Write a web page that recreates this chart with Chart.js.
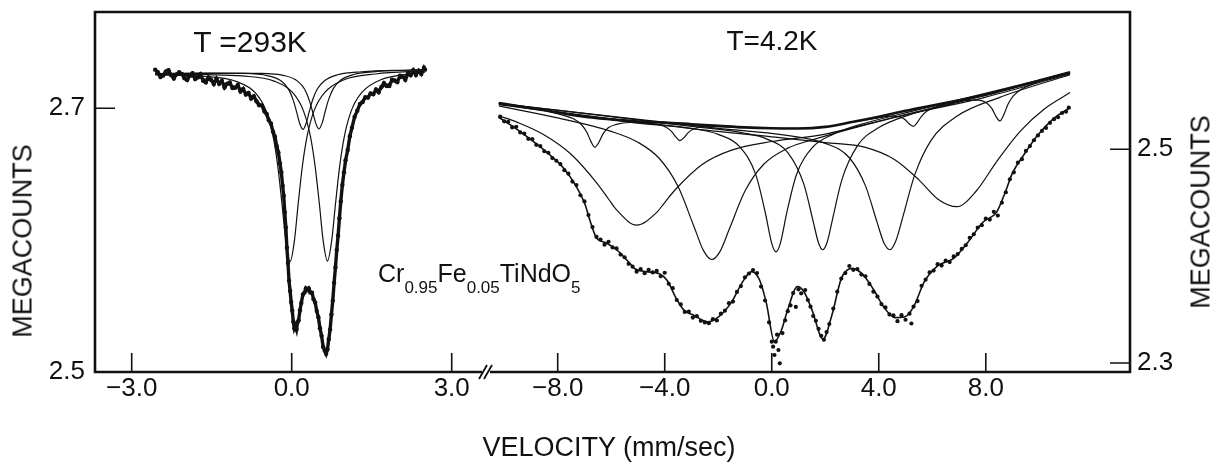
<!DOCTYPE html>
<html>
<head>
<meta charset="utf-8">
<script src="https://cdn.jsdelivr.net/npm/chart.js@4.4.1/dist/chart.umd.min.js"></script>
<style>
  html, body { margin: 0; padding: 0; background: #fff; }
  #fig { position: relative; width: 1214px; height: 470px; font-family: "Liberation Sans", Arial, sans-serif; color: #111; }
  #fig canvas { position: absolute; left: 0; top: 0; }
  .lbl { position: absolute; white-space: nowrap; line-height: 1; }
  .mid { transform: translate(-50%, -50%); }
  .rot { transform: translate(-50%, -50%) rotate(-90deg); }
  .sub { font-size: 17px; vertical-align: -11px; }
</style>
</head>
<body>
<div id="fig">
  <canvas id="c293" width="1214" height="470"></canvas>
  <canvas id="c4" width="1214" height="470"></canvas>
  <div class="lbl mid" style="left:250px; top:42px; font-size:30px">T =293K</div>
  <div class="lbl mid" style="left:772px; top:41px; font-size:28px">T=4.2K</div>
  <div class="lbl" style="left:378px; top:261px; font-size:25px">Cr<span class="sub">0.95</span>Fe<span class="sub">0.05</span>TiNdO<span class="sub">5</span></div>
  <div class="lbl rot" style="left:23px; top:241px; font-size:27px">MEGACOUNTS</div>
  <div class="lbl rot" style="left:1201px; top:212px; font-size:27px">MEGACOUNTS</div>
  <div class="lbl mid" style="left:609px; top:447px; font-size:27px">VELOCITY (mm/sec)</div>
</div>

<script>
// tick values
const t293XTicks = [-3, 0, 3];
const t4XTicks = [-8, -4, 0, 4, 8];
const t293YTicks = [2.5, 2.7];
const t4YTicks = [2.3, 2.5];

// ---- T = 293 K (left panel), velocity mm/s vs megacounts ----
const t293DataV = [
  -2.56, -2.51, -2.46, -2.41, -2.36, -2.31, -2.26, -2.21, -2.16, -2.11,
  -2.06, -2.01, -1.96, -1.91, -1.86, -1.81, -1.76, -1.71, -1.66, -1.61,
  -1.56, -1.51, -1.46, -1.41, -1.36, -1.31, -1.26, -1.21, -1.16, -1.11,
  -1.06, -1.01, -0.96, -0.91, -0.86, -0.81, -0.76, -0.71, -0.66, -0.61,
  -0.56, -0.51, -0.47, -0.43, -0.39, -0.35, -0.315, -0.28, -0.25, -0.22,
  -0.195, -0.17, -0.15, -0.13, -0.11, -0.09, -0.07, -0.05, -0.03, -0.01,
  0.01, 0.03, 0.05, 0.07, 0.09, 0.11, 0.13, 0.155, 0.18, 0.21,
  0.24, 0.265, 0.29, 0.32, 0.35, 0.38, 0.41, 0.44, 0.47, 0.5,
  0.53, 0.56, 0.59, 0.62, 0.645, 0.67, 0.695, 0.72, 0.745, 0.77,
  0.795, 0.82, 0.845, 0.87, 0.895, 0.92, 0.95, 0.98, 1.01, 1.05,
  1.09, 1.13, 1.18, 1.23, 1.28, 1.33, 1.38, 1.43, 1.48, 1.53,
  1.58, 1.63, 1.68, 1.73, 1.78, 1.83, 1.88, 1.93, 1.98, 2.03,
  2.08, 2.13, 2.18, 2.23, 2.28, 2.33, 2.38, 2.43, 2.48, 2.5
];
const t293DataY = [
  2.7293, 2.7273, 2.7237, 2.7249, 2.7279, 2.7288, 2.7251, 2.7226, 2.7257, 2.7273,
  2.7260, 2.7227, 2.7214, 2.7249, 2.7265, 2.7222, 2.7234, 2.7258, 2.7208, 2.7196,
  2.7233, 2.7215, 2.7184, 2.7224, 2.7186, 2.7208, 2.7158, 2.7186, 2.7196, 2.7153,
  2.7156, 2.7176, 2.7127, 2.7147, 2.7104, 2.7116, 2.7074, 2.7092, 2.7053, 2.7023,
  2.7022, 2.6975, 2.6957, 2.6910, 2.6885, 2.6822, 2.6786, 2.6712, 2.6665, 2.6582,
  2.6515, 2.6412, 2.6336, 2.6212, 2.6096, 2.5942, 2.5826, 2.5692, 2.5615, 2.5531,
  2.5466, 2.5381, 2.5330, 2.5348, 2.5322, 2.5377, 2.5392, 2.5468, 2.5524, 2.5588,
  2.5602, 2.5633, 2.5621, 2.5634, 2.5603, 2.5602, 2.5552, 2.5527, 2.5462, 2.5416,
  2.5332, 2.5274, 2.5190, 2.5162, 2.5138, 2.5171, 2.5248, 2.5322, 2.5436, 2.5541,
  2.5676, 2.5792, 2.5926, 2.6034, 2.6166, 2.6293, 2.6418, 2.6514, 2.6606, 2.6683,
  2.6788, 2.6853, 2.6936, 2.6982, 2.7032, 2.7048, 2.7083, 2.7081, 2.7113, 2.7106,
  2.7142, 2.7122, 2.7160, 2.7191, 2.7169, 2.7169, 2.7216, 2.7210, 2.7198, 2.7246,
  2.7240, 2.7216, 2.7263, 2.7250, 2.7288, 2.7253, 2.7285, 2.7260, 2.7307, 2.7293
];

const t293FitV = [-2.56, -2.2, -1.8, -1.5, -1.2, -0.97, -0.78, -0.66, -0.53, -0.43,
  -0.35, -0.28, -0.22, -0.17, -0.13, -0.09, -0.05, 0.0, 0.04, 0.08,
  0.13, 0.18, 0.24, 0.29, 0.36, 0.44, 0.52, 0.6, 0.65, 0.7,
  0.75, 0.8, 0.86, 0.92, 0.98, 1.05, 1.13, 1.22, 1.34, 1.53,
  1.72, 1.97, 2.22, 2.5];
const t293FitY = [2.7265, 2.7255, 2.7235, 2.721, 2.718, 2.715, 2.710, 2.706, 2.700, 2.692,
  2.683, 2.672, 2.659, 2.642, 2.622, 2.595, 2.570, 2.550, 2.537, 2.534,
  2.540, 2.553, 2.561, 2.563, 2.561, 2.552, 2.536, 2.518, 2.516, 2.525,
  2.544, 2.569, 2.600, 2.630, 2.652, 2.669, 2.686, 2.698, 2.706, 2.7115,
  2.7165, 2.7215, 2.7255, 2.729];

// strong doublet, two lines
const t293OuterAV = [-2.56, -1.63, -1.03, -0.68, -0.48, -0.35, -0.26, -0.18, -0.11, -0.03,
  0.05, 0.12, 0.2, 0.29, 0.42, 0.62, 0.97, 1.57, 2.5];
const t293OuterAY = [2.7253, 2.7241, 2.7202, 2.7116, 2.6979, 2.6788, 2.6558, 2.6267, 2.5993, 2.5838,
  2.5993, 2.6269, 2.656, 2.679, 2.6982, 2.712, 2.7214, 2.726, 2.7283];
const t293OuterBV = [-2.56, -1.6, -0.93, -0.33, 0.02, 0.22, 0.35, 0.44, 0.52, 0.59,
  0.67, 0.75, 0.82, 0.9, 0.99, 1.12, 1.32, 1.67, 2.27, 2.5];
const t293OuterBY = [2.7258, 2.7255, 2.7245, 2.7206, 2.7118, 2.698, 2.6788, 2.6558, 2.627, 2.5996,
  2.5841, 2.5996, 2.627, 2.6561, 2.6792, 2.6984, 2.7122, 2.7216, 2.7263, 2.7273];

// weak doublet, two lines
const t293InnerAV = [-2.56, -1.79, -0.89, -0.44, -0.19, -0.06, 0.03, 0.09, 0.15, 0.21,
  0.27, 0.33, 0.39, 0.48, 0.61, 0.86, 1.31, 2.21, 2.5];
const t293InnerAY = [2.7262, 2.7265, 2.7264, 2.7246, 2.7205, 2.7145, 2.706, 2.6975, 2.6884, 2.684,
  2.6885, 2.6976, 2.7061, 2.7146, 2.7207, 2.7254, 2.7277, 2.729, 2.7293];
const t293InnerBV = [-2.56, -1.49, -0.59, -0.14, 0.11, 0.24, 0.33, 0.39, 0.45, 0.51,
  0.57, 0.63, 0.69, 0.78, 0.91, 1.16, 1.61, 2.5];
const t293InnerBY = [2.7263, 2.7267, 2.7265, 2.7248, 2.7206, 2.7146, 2.706, 2.6977, 2.6887, 2.6843,
  2.6887, 2.6979, 2.7064, 2.7149, 2.7211, 2.7256, 2.7279, 2.7291];

// ---- T = 4.2 K (right panel) ----
const t4DataV = [
  -10.15, -10.0, -9.85, -9.7, -9.55, -9.4, -9.25, -9.1, -8.95, -8.8,
  -8.65, -8.5, -8.35, -8.2, -8.05, -7.9, -7.75, -7.6, -7.45, -7.3,
  -7.15, -7.0, -6.85, -6.7, -6.55, -6.4, -6.25, -6.1, -5.95, -5.8,
  -5.65, -5.5, -5.35, -5.2, -5.05, -4.9, -4.75, -4.6, -4.45, -4.3,
  -4.15, -4.0, -3.85, -3.7, -3.55, -3.4, -3.25, -3.1, -2.95, -2.8,
  -2.65, -2.5, -2.35, -2.2, -2.05, -1.9, -1.75, -1.6, -1.45, -1.3,
  -1.15, -1.0, -0.85, -0.7, -0.55, -0.4, -0.25, -0.1, 0.0, 0.05,
  0.1, 0.15, 0.2, 0.25, 0.3, 0.4, 0.5, 0.6, 0.7, 0.8,
  0.9, 1.0, 1.1, 1.25, 1.35, 1.45, 1.55, 1.65, 1.75, 1.85,
  1.95, 2.05, 2.15, 2.3, 2.45, 2.6, 2.75, 2.9, 3.05, 3.2,
  3.35, 3.5, 3.65, 3.8, 3.95, 4.1, 4.25, 4.4, 4.55, 4.7,
  4.85, 5.0, 5.15, 5.22, 5.3, 5.45, 5.6, 5.75, 5.9, 6.05,
  6.2, 6.35, 6.5, 6.65, 6.8, 6.95, 7.1, 7.25, 7.4, 7.55,
  7.7, 7.85, 8.0, 8.15, 8.3, 8.45, 8.6, 8.75, 8.9, 9.05,
  9.2, 9.35, 9.5, 9.65, 9.8, 9.95, 10.1, 10.25, 10.4, 10.55,
  10.7, 10.85, 11.0, 11.1
];
const t4DataY = [
  2.5305, 2.5262, 2.5258, 2.5205, 2.5211, 2.5158, 2.5147, 2.5098, 2.5095, 2.5042,
  2.5030, 2.4982, 2.4968, 2.4918, 2.4893, 2.4862, 2.4805, 2.4772, 2.4698, 2.4665,
  2.4570, 2.4512, 2.4385, 2.4272, 2.4180, 2.4155, 2.4108, 2.4135, 2.4082, 2.4072,
  2.4015, 2.3990, 2.3928, 2.3902, 2.3855, 2.3878, 2.3840, 2.3872, 2.3848, 2.3862,
  2.3812, 2.3845, 2.3742, 2.3700, 2.3590, 2.3548, 2.3478, 2.3482, 2.3425, 2.3438,
  2.3395, 2.3380, 2.3372, 2.3410, 2.3398, 2.3462, 2.3490, 2.3560, 2.3575, 2.3665,
  2.3720, 2.3802, 2.3838, 2.3870, 2.3842, 2.3715, 2.3585, 2.3380, 2.3200, 2.3153,
  2.3075, 2.3200, 2.3265, 2.3122, 2.2997, 2.3280, 2.3400, 2.3485, 2.3540, 2.3655,
  2.3525, 2.3690, 2.3652, 2.3683, 2.3590, 2.3527, 2.3440, 2.3395, 2.3320, 2.3255,
  2.3218, 2.3290, 2.3365, 2.3510, 2.3668, 2.3790, 2.3842, 2.3908, 2.3872, 2.3880,
  2.3828, 2.3812, 2.3740, 2.3668, 2.3622, 2.3552, 2.3520, 2.3455, 2.3445, 2.3392,
  2.3448, 2.3405, 2.3462, 2.3370, 2.3528, 2.3580, 2.3722, 2.3780, 2.3848, 2.3865,
  2.3925, 2.3912, 2.3958, 2.3945, 2.3998, 2.4020, 2.4068, 2.4102, 2.4172, 2.4205,
  2.4268, 2.4290, 2.4352, 2.4342, 2.4415, 2.4380, 2.4500, 2.4598, 2.4720, 2.4785,
  2.4875, 2.4908, 2.4985, 2.5030, 2.5085, 2.5130, 2.5172, 2.5200, 2.5248, 2.5282,
  2.5300, 2.5340, 2.5352, 2.5390
];

const t4FitV = [-10.2, -9.6, -9.0, -8.4, -7.8, -7.3, -7.0, -6.75, -6.55, -6.2,
  -5.8, -5.4, -5.1, -4.7, -4.2, -3.9, -3.6, -3.3, -2.9, -2.4,
  -2.0, -1.5, -1.1, -0.75, -0.45, -0.2, 0.1, 0.35, 0.6, 0.95,
  1.2, 1.5, 1.92, 2.25, 2.6, 3.0, 3.4, 3.8, 4.2, 4.6,
  4.95, 5.3, 5.7, 6.2, 6.8, 7.3, 7.9, 8.4, 8.7, 9.0,
  9.4, 9.9, 10.5, 11.15];
const t4FitY = [2.530, 2.520, 2.509, 2.497, 2.483, 2.465, 2.450, 2.430, 2.417, 2.4125,
  2.406, 2.396, 2.388, 2.3855, 2.3835, 2.377, 2.362, 2.350, 2.3445, 2.3385,
  2.343, 2.357, 2.3755, 2.3855, 2.3775, 2.356, 2.320, 2.330, 2.350, 2.3715,
  2.367, 2.350, 2.3225, 2.345, 2.379, 2.3886, 2.383, 2.369, 2.352, 2.3425,
  2.343, 2.3525, 2.376, 2.391, 2.398, 2.412, 2.432, 2.441, 2.458, 2.478,
  2.494, 2.512, 2.528, 2.539];

// curved background
const t4BaseV = [-10.2, -10, -9, -8, -7, -6, -5, -4, -3, -2, -1, 0, 1, 2, 3, 4, 5, 6, 7, 8, 9, 10, 11.15];
const t4BaseY = [2.5433, 2.5425, 2.5385, 2.5345, 2.5305, 2.528, 2.526, 2.525, 2.5235, 2.522, 2.5205, 2.5197,
  2.5195, 2.521, 2.5255, 2.5305, 2.536, 2.541, 2.546, 2.551, 2.5575, 2.5645, 2.572];

// narrow sextet (outer four lines)
const t4SharpV = [-10.2, -9.5, -8.7, -7.91, -7.41, -7.11, -6.91, -6.76, -6.61, -6.46,
  -6.31, -6.11, -5.81, -5.31, -4.73, -4.23, -3.93, -3.73, -3.58, -3.43,
  -3.28, -3.13, -2.93, -2.63, -2.13, -1, 0, 1, 2, 3,
  3.99, 4.49, 4.79, 4.99, 5.14, 5.29, 5.44, 5.59, 5.79, 6.09,
  6.59, 7.23, 7.73, 8.03, 8.23, 8.38, 8.53, 8.68, 8.83, 9.03,
  9.33, 9.83, 10.5, 11.15];
const t4SharpY = [2.5433, 2.5405, 2.5373, 2.5326, 2.5286, 2.523, 2.5159, 2.5074, 2.5019, 2.5066,
  2.5142, 2.5201, 2.5233, 2.5251, 2.5245, 2.5231, 2.5205, 2.5163, 2.5114, 2.5081,
  2.5109, 2.5154, 2.519, 2.5209, 2.5213, 2.5205, 2.5197, 2.5195, 2.521, 2.5255,
  2.5295, 2.5311, 2.5304, 2.5277, 2.5237, 2.5215, 2.5252, 2.5307, 2.5356, 2.5394,
  2.5431, 2.5457, 2.5461, 2.5434, 2.5381, 2.5308, 2.5265, 2.5328, 2.5421, 2.5499,
  2.5562, 2.5618, 2.568, 2.572];

// broad lines
const t4LineAV = [-10.2, -9.5, -8.5, -7.5, -6.5, -6.1, -5.8, -5.05, -4.3, -4.0, -3.6, -2.6, -1.5, 0, 2, 4.5, 8, 11.15];
const t4LineAY = [2.5314, 2.5252, 2.5134, 2.4954, 2.4673, 2.4535, 2.4433, 2.429, 2.441, 2.4502, 2.4624, 2.4858, 2.4992, 2.5073, 2.5142, 2.5295, 2.5489, 2.5706];
const t4LineBV = [-10.2, -8, -6, -5, -4.2, -3.5, -2.9, -2.55, -2.24, -1.93, -1.6, -1, -0.3, 0.6, 1.7, 3.5, 6, 11.15];
const t4LineBY = [2.5406, 2.5294, 2.5168, 2.5066, 2.4914, 2.4652, 2.4273, 2.4052, 2.3969, 2.4045, 2.4244, 2.4609, 2.486, 2.5011, 2.5102, 2.5229, 2.5385, 2.571];
const t4LineCV = [-10.2, -5, -3, -2, -1.2, -0.6, -0.25, 0.01, 0.16, 0.31, 0.57, 0.92, 1.52, 2.3, 3.3, 5.3, 11.15];
const t4LineCY = [2.5429, 2.5245, 2.5196, 2.514, 2.5025, 2.4765, 2.4418, 2.411, 2.404, 2.411, 2.4416, 2.476, 2.5017, 2.5142, 2.5231, 2.536, 2.5717];
const t4LineDV = [-10.2, -3, -1, -0.2, 0.6, 1.2, 1.55, 1.75, 1.91, 2.07, 2.27, 2.62, 3.2, 4, 5, 7, 11.15];
const t4LineDY = [2.5431, 2.5215, 2.515, 2.5098, 2.4969, 2.4674, 2.4324, 2.4123, 2.406, 2.413, 2.4343, 2.4714, 2.5032, 2.5203, 2.5311, 2.5442, 2.5717];
const t4LineEV = [-10.2, -2, 0.5, 2, 2.9, 3.5, 3.95, 4.2, 4.42, 4.64, 4.89, 5.35, 5.95, 6.9, 8.5, 11.15];
const t4LineEY = [2.5428, 2.5196, 2.5133, 2.5056, 2.4921, 2.466, 2.4307, 2.412, 2.406, 2.4144, 2.4359, 2.4765, 2.5082, 2.5307, 2.5484, 2.5698];
const t4LineFV = [-10.2, -3, 0, 2, 3.5, 4.6, 5.5, 6.2, 6.92, 7.65, 8.4, 9.3, 10.2, 11.15];
const t4LineFY = [2.5419, 2.5194, 2.5117, 2.5063, 2.5018, 2.4903, 2.4714, 2.4536, 2.4463, 2.4612, 2.4883, 2.5173, 2.538, 2.5531];

// ---------------------------------------------------------------------------

const INK = "#111";
Chart.defaults.font.family = "'Liberation Sans', Arial, sans-serif";
Chart.defaults.color = INK;

const pts = (xs, ys) => xs.map((x, i) => ({ x, y: ys[i] }));
const fmtTick = (v) => v.toFixed(1).replace("-", "\u2212");

function curve(xs, ys, width) {
  return {
    data: pts(xs, ys),
    showLine: true,
    borderColor: INK,
    borderWidth: width,
    pointRadius: 0,
    cubicInterpolationMode: "monotone",
  };
}

// box, inward ticks and the "//" break; tick positions come from the scales
const framePlugin = {
  id: "frame",
  afterDatasetsDraw(chart, args, opts) {
    const { ctx, chartArea: a, scales } = chart;
    const side = opts.side;
    const sx = side === "left" ? a.left : a.right;
    ctx.save();
    ctx.strokeStyle = INK;
    ctx.lineCap = "butt";
    ctx.lineWidth = 2.6;
    ctx.beginPath();
    ctx.moveTo(side === "right" ? a.left - opts.gap : a.left - 1.3, a.top);
    ctx.lineTo(side === "right" ? a.right + 1.3 : a.right, a.top);
    ctx.moveTo(side === "left" ? a.left - 1.3 : a.left, a.bottom);
    ctx.lineTo(side === "right" ? a.right + 1.3 : a.right, a.bottom);
    ctx.moveTo(sx, a.top);
    ctx.lineTo(sx, a.bottom);
    ctx.stroke();

    ctx.lineWidth = 1.6;
    ctx.beginPath();
    scales.x.ticks.forEach((t) => {
      const px = scales.x.getPixelForValue(t.value);
      ctx.moveTo(px, a.bottom);
      ctx.lineTo(px, a.bottom - 19);
    });
    scales.y.ticks.forEach((t) => {
      const py = scales.y.getPixelForValue(t.value);
      ctx.moveTo(sx, py);
      ctx.lineTo(sx + (side === "left" ? 20 : -20), py);
    });
    ctx.stroke();

    if (side === "right") {
      ctx.lineWidth = 1.8;
      ctx.beginPath();
      [-7, -2].forEach((dx) => {
        ctx.moveTo(a.left + dx - 4, a.bottom + 7);
        ctx.lineTo(a.left + dx + 4, a.bottom - 7);
      });
      ctx.stroke();
    }
    ctx.restore();
  },
};

function axisX(min, max, ticks) {
  return {
    type: "linear", min, max,
    grid: { display: false, drawTicks: false },
    border: { display: false },
    afterBuildTicks: (ax) => { ax.ticks = ticks.map((value) => ({ value })); },
    afterFit: (ax) => { ax.height = 98; ax.paddingLeft = 0; ax.paddingRight = 0; },
    ticks: { autoSkip: false, maxRotation: 0, padding: 1, font: { size: 26 }, callback: fmtTick },
  };
}

function axisY(min, max, ticks, position, width, pad) {
  return {
    type: "linear", min, max, position,
    grid: { display: false, drawTicks: false },
    border: { display: false },
    afterBuildTicks: (ax) => { ax.ticks = ticks.map((value) => ({ value })); },
    afterFit: (ax) => { ax.width = width; ax.paddingTop = 0; ax.paddingBottom = 0; },
    ticks: { autoSkip: false, padding: pad, font: { size: 26 }, callback: fmtTick },
  };
}

const baseOptions = (padding) => ({
  responsive: false,
  animation: false,
  events: [],
  layout: { padding, autoPadding: false },
});

new Chart(document.getElementById("c293"), {
  type: "scatter",
  data: {
    datasets: [
      { data: pts(t293DataV, t293DataY), showLine: true, borderColor: INK, borderWidth: 3.4,
        pointRadius: 2.2, pointBackgroundColor: INK, pointBorderWidth: 0, tension: 0 },
      curve(t293FitV, t293FitY, 1.5),
      curve(t293OuterAV, t293OuterAY, 1.2),
      curve(t293OuterBV, t293OuterBY, 1.2),
      curve(t293InnerAV, t293InnerAY, 1.2),
      curve(t293InnerBV, t293InnerBY, 1.2),
    ],
  },
  options: {
    ...baseOptions({ left: 0, top: 12, right: 1214 - 482, bottom: 0 }),
    plugins: { legend: { display: false }, tooltip: { enabled: false }, frame: { side: "left" } },
    scales: {
      x: axisX(-3.688, 3.568, t293XTicks),
      y: axisY(2.5, 2.773, t293YTicks, "left", 95, 10),
    },
  },
  plugins: [framePlugin],
});

new Chart(document.getElementById("c4"), {
  type: "scatter",
  data: {
    datasets: [
      { data: pts(t4DataV, t4DataY), showLine: false, pointRadius: 2.1,
        pointBackgroundColor: INK, pointBorderWidth: 0 },
      curve(t4FitV, t4FitY, 1.6),
      curve(t4BaseV, t4BaseY, 2.6),
      curve(t4SharpV, t4SharpY, 1.2),
      curve(t4LineAV, t4LineAY, 1.2),
      curve(t4LineBV, t4LineBY, 1.2),
      curve(t4LineCV, t4LineCY, 1.2),
      curve(t4LineDV, t4LineDY, 1.2),
      curve(t4LineEV, t4LineEY, 1.2),
      curve(t4LineFV, t4LineFY, 1.2),
    ],
  },
  options: {
    ...baseOptions({ left: 490, top: 12, right: 0, bottom: 0 }),
    plugins: { legend: { display: false }, tooltip: { enabled: false }, frame: { side: "right", gap: 8 } },
    scales: {
      x: axisX(-10.53, 13.39, t4XTicks),
      y: axisY(2.2916, 2.6285, t4YTicks, "right", 84, 7),
    },
  },
  plugins: [framePlugin],
});
</script>
</body>
</html>
